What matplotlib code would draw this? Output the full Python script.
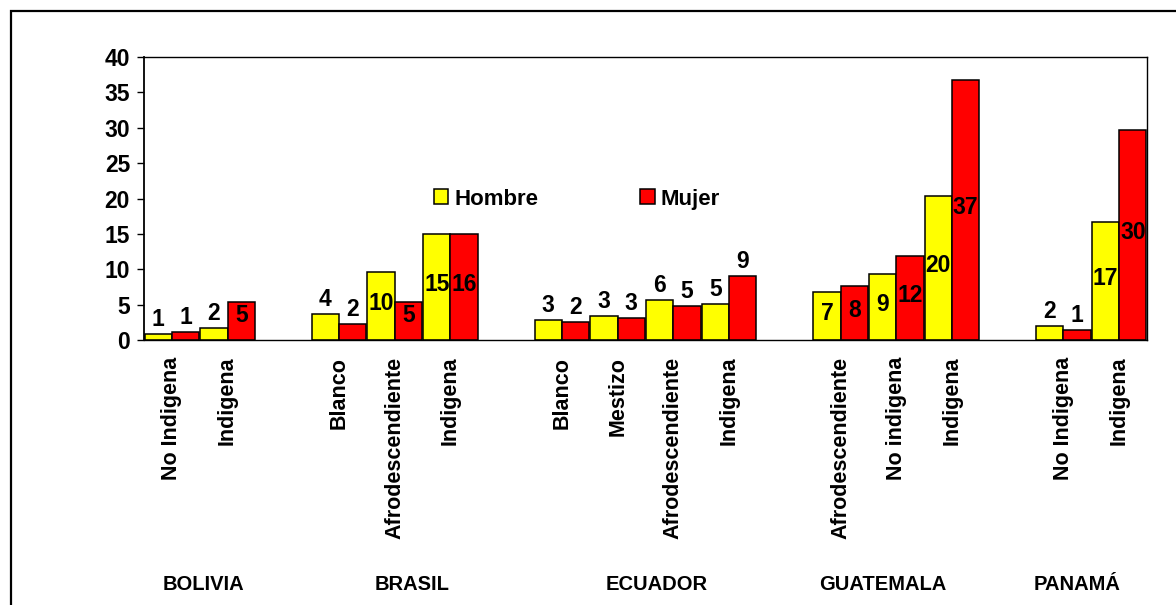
import matplotlib
matplotlib.use("Agg")
import matplotlib.pyplot as plt
from matplotlib.patches import Rectangle, Patch

plt.rcParams['font.family'] = ['Liberation Sans', 'DejaVu Sans']
plt.rcParams['font.weight'] = 'bold'

# ---- data ----
countries = ["BOLIVIA", "BRASIL", "ECUADOR", "GUATEMALA", "PANAMÁ"]
group_sizes = [2, 3, 4, 3, 2]
categories = ["No Indigena", "Indigena",
              "Blanco", "Afrodescendiente", "Indigena",
              "Blanco", "Mestizo", "Afrodescendiente", "Indigena",
              "Afrodescendiente", "No indigena", "Indigena",
              "No Indigena", "Indigena"]
hombre = [0.85, 1.65, 3.65, 9.6, 15.0, 2.85, 3.4, 5.65, 5.1, 6.8, 9.3, 20.4, 2.0, 16.7]
mujer = [1.15, 5.35, 2.25, 5.35, 15.0, 2.5, 3.05, 4.8, 9.05, 7.6, 11.9, 36.75, 1.4, 29.7]
labels_h = ["1", "2", "4", "10", "15", "3", "3", "6", "5", "7", "9", "20", "2", "17"]
labels_m = ["1", "5", "2", "5", "16", "2", "3", "5", "9", "8", "12", "37", "1", "30"]
yticks = [0, 5, 10, 15, 20, 25, 30, 35, 40]

# label placement: 'o' above bar, 'c' inside bar
place_h = ["o", "o", "o", "c", "c", "o", "o", "o", "o", "c", "c", "c", "o", "c"]
place_m = ["o", "c", "o", "c", "c", "o", "o", "o", "o", "c", "c", "c", "o", "c"]

# ---- layout: one blank slot between countries ----
positions = []
slot = 0
for g, n in enumerate(group_sizes):
    for k in range(n):
        positions.append(slot)
        slot += 1
    slot += 1
nslots = slot - 1

W, H = 1176, 605
fig = plt.figure(figsize=(W / 100, H / 100), dpi=100)
ax = fig.add_axes([144 / W, 1 - 340 / H, (1147 - 144) / W, (340 - 57) / H])

bw = 0.49
xh = [p + 0.5 - bw / 2 for p in positions]
xm = [p + 0.5 + bw / 2 for p in positions]
ax.bar(xh, hombre, width=bw, color="#FFFF00", edgecolor="black", linewidth=1.1, label="Hombre")
ax.bar(xm, mujer, width=bw, color="#FF0000", edgecolor="black", linewidth=1.1, label="Mujer")

def put_labels(xs, vals, labs, places):
    for x, v, t, p in zip(xs, vals, labs, places):
        if p == "o":
            ax.annotate(t, (x, v), xytext=(0, 10.5), textcoords="offset points",
                        ha="center", va="center", fontsize=16.5, fontweight="bold")
        else:
            ax.text(x, max(v / 2, 3.2) + 0.3, t, ha="center", va="center",
                    fontsize=16.5, fontweight="bold")

put_labels(xh, hombre, labels_h, place_h)
put_labels(xm, mujer, labels_m, place_m)

ax.set_xlim(0, nslots)
ax.set_ylim(0, 40)
ax.set_yticks(yticks)
ax.set_yticklabels([str(v) for v in yticks], fontsize=16.5, fontweight="bold")
ax.tick_params(axis="y", direction="out", length=5, width=1, pad=5)
ax.set_xticks([p + 0.5 for p in positions])
ax.set_xticklabels(categories, rotation=90, fontsize=15.5, fontweight="bold",
                   va="top", ha="center")
ax.tick_params(axis="x", length=0, pad=12)
for s in ax.spines.values():
    s.set_color("black")
    s.set_linewidth(1.0)
ax.spines["left"].set_linewidth(1.3)

# legend
handles = [Patch(facecolor="#FFFF00", edgecolor="black", linewidth=1.1),
           Patch(facecolor="#FF0000", edgecolor="black", linewidth=1.1)]
fig.legend(handles, ["Hombre", "Mujer"], loc="center left",
           bbox_to_anchor=(434 / W, 1 - 199 / H), ncol=2, frameon=False,
           borderpad=0, borderaxespad=0, handlelength=0.65, handleheight=0.65,
           handletextpad=0.25, columnspacing=4.6,
           prop={"size": 16, "weight": "bold"})

# country labels
country_x = [203, 412, 657, 883, 1077]
for cx, name in zip(country_x, countries):
    fig.text(cx / W, 1 - 585 / H, name, ha="center", va="center",
             fontsize=14.5, fontweight="bold")

# outer frame (extends beyond the image on right and bottom)
fig.patches.append(Rectangle((11 / W, -0.2), 1.5, (1 - 11 / H) + 0.2,
                             transform=fig.transFigure, fill=False,
                             edgecolor="black", linewidth=1.6))

fig.savefig("out.png", dpi=100)
